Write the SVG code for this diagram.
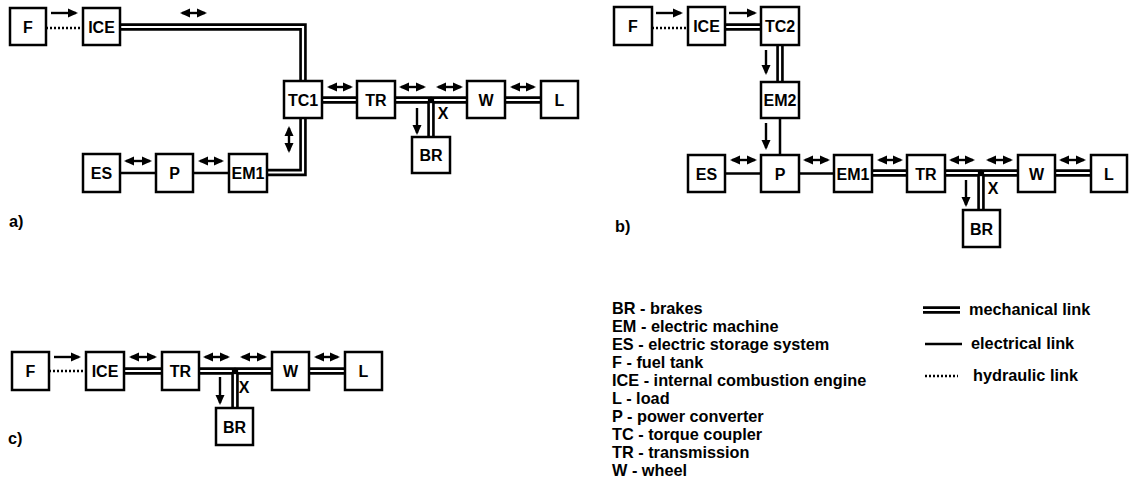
<svg xmlns="http://www.w3.org/2000/svg" width="1129" height="480" viewBox="0 0 1129 480">
<style>
text{font-family:"Liberation Sans",Arial,sans-serif;font-weight:bold;fill:#000}
.lbl{font-size:16px;text-anchor:middle}
.leg{font-size:16.3px}
.box{fill:#fff;stroke:#000;stroke-width:2.5}
.mo{fill:none;stroke:#000;stroke-width:7.5}
.mi{fill:none;stroke:#fff;stroke-width:2.2}
.el{fill:none;stroke:#000;stroke-width:2.5}
.hy{fill:none;stroke:#000;stroke-width:2.5;stroke-dasharray:2 2}
.ar{fill:none;stroke:#000;stroke-width:2.4;marker-end:url(#ah)}
.ar2{fill:none;stroke:#000;stroke-width:2.4;marker-end:url(#ah);marker-start:url(#ah)}
</style>
<defs>
<marker id="ah" viewBox="0 0 10 10" refX="8" refY="5" markerUnits="userSpaceOnUse" markerWidth="10" markerHeight="10" orient="auto-start-reverse">
<path d="M0,0.5 L10,5 L0,9.5 z" fill="#000"/>
</marker>
</defs>
<rect width="1129" height="480" fill="#fff"/>

<!-- connectors -->
<g id="connectors">
<!-- a) -->
<path class="hy" d="M46,28 H83"/>
<path class="mo" d="M120,27 H303 V81"/><path class="mi" d="M120,27 H303 V81"/>
<path class="mo" d="M303,118 V172.5 H267"/><path class="mi" d="M303,118 V172.5 H267"/>
<path class="el" d="M120,173 H156 M193,173 H229"/>
<path class="mo" d="M322,100 H357 M395,100 H467 M505,100 H541 M431,100 V137"/>
<path class="mi" d="M322,100 H357 M395,100 H467 M505,100 H541 M431,101 V137"/>
<circle cx="431" cy="100" r="3.2" fill="#000"/>
<path class="ar" d="M51,13 H76"/>
<path class="ar2" d="M182,13 H205"/>
<path class="ar2" d="M289,128 V151"/>
<path class="ar2" d="M126,161 H150"/>
<path class="ar2" d="M200,161 H222"/>
<path class="ar2" d="M329,87 H351"/>
<path class="ar2" d="M401,87 H424"/>
<path class="ar2" d="M438,87 H461"/>
<path class="ar2" d="M512,87 H534"/>
<path class="ar" d="M417,108 V133"/>

<!-- b) -->
<path class="hy" d="M652,28 H688"/>
<path class="mo" d="M725,27 H761 M780,45 V82"/><path class="mi" d="M725,27 H761 M780,45 V82"/>
<path class="el" d="M780,118 V155 M725,173.5 H761 M799,173.5 H834"/>
<path class="mo" d="M872,173 H907 M945,173 H1018 M1055,173 H1091 M981,173 V210"/>
<path class="mi" d="M872,173 H907 M945,173 H1018 M1055,173 H1091 M981,174 V210"/>
<circle cx="981" cy="173" r="3.2" fill="#000"/>
<path class="ar" d="M656,13 H681"/>
<path class="ar" d="M729,13 H755"/>
<path class="ar" d="M766,50 V73"/>
<path class="ar" d="M766,123 V148"/>
<path class="ar2" d="M732,160 H755"/>
<path class="ar2" d="M805,160 H828"/>
<path class="ar2" d="M879,160 H901"/>
<path class="ar2" d="M951,160 H973"/>
<path class="ar2" d="M988,160 H1011"/>
<path class="ar2" d="M1061,160 H1084"/>
<path class="ar" d="M966,180 V205"/>

<!-- c) -->
<path class="hy" d="M49,371 H86"/>
<path class="mo" d="M124,371 H162 M199,371 H272 M309,371 H345 M235,371 V408"/>
<path class="mi" d="M124,371 H162 M199,371 H272 M309,371 H345 M235,372 V408"/>
<circle cx="235" cy="371" r="3.2" fill="#000"/>
<path class="ar" d="M54,357 H79"/>
<path class="ar2" d="M131,357 H155"/>
<path class="ar2" d="M205,357 H228"/>
<path class="ar2" d="M242,357 H265"/>
<path class="ar2" d="M316,357 H338"/>
<path class="ar" d="M220,377 V403"/>
</g>

<!-- a) nodes -->
<g id="a-F"><rect class="box" x="10" y="8" width="36" height="37"/><text class="lbl" x="28" y="32.5">F</text></g>
<g id="a-ICE"><rect class="box" x="83" y="8" width="37" height="37"/><text class="lbl" x="101.5" y="32.5">ICE</text></g>
<g id="a-TC1"><rect class="box" x="284" y="81" width="38" height="37"/><text class="lbl" x="303" y="105.5">TC1</text></g>
<g id="a-TR"><rect class="box" x="357" y="81" width="38" height="37"/><text class="lbl" x="376" y="105.5">TR</text></g>
<g id="a-W"><rect class="box" x="467" y="81" width="38" height="37"/><text class="lbl" x="486" y="105.5">W</text></g>
<g id="a-L"><rect class="box" x="541" y="81" width="37" height="37"/><text class="lbl" x="559.5" y="105.5">L</text></g>
<g id="a-BR"><rect class="box" x="412" y="137" width="38" height="36"/><text class="lbl" x="431" y="161">BR</text></g>
<g id="a-ES"><rect class="box" x="83" y="154" width="37" height="38"/><text class="lbl" x="101.5" y="179">ES</text></g>
<g id="a-P"><rect class="box" x="156" y="154" width="37" height="38"/><text class="lbl" x="174.5" y="179">P</text></g>
<g id="a-EM1"><rect class="box" x="229" y="154" width="38" height="38"/><text class="lbl" x="248" y="179">EM1</text></g>
<text class="lbl" x="443" y="119">X</text>
<text class="leg" x="9" y="227">a)</text>

<!-- b) nodes -->
<g id="b-F"><rect class="box" x="614" y="7" width="38" height="38"/><text class="lbl" x="633" y="32">F</text></g>
<g id="b-ICE"><rect class="box" x="688" y="7" width="37" height="38"/><text class="lbl" x="706.5" y="32">ICE</text></g>
<g id="b-TC2"><rect class="box" x="761" y="7" width="38" height="38"/><text class="lbl" x="780" y="32">TC2</text></g>
<g id="b-EM2"><rect class="box" x="761" y="82" width="38" height="36"/><text class="lbl" x="780" y="106">EM2</text></g>
<g id="b-P"><rect class="box" x="761" y="155" width="38" height="37"/><text class="lbl" x="780" y="179.5">P</text></g>
<g id="b-ES"><rect class="box" x="688" y="155" width="37" height="37"/><text class="lbl" x="706.5" y="179.5">ES</text></g>
<g id="b-EM1"><rect class="box" x="834" y="155" width="38" height="37"/><text class="lbl" x="853" y="179.5">EM1</text></g>
<g id="b-TR"><rect class="box" x="907" y="155" width="38" height="37"/><text class="lbl" x="926" y="179.5">TR</text></g>
<g id="b-W"><rect class="box" x="1018" y="155" width="37" height="37"/><text class="lbl" x="1036.5" y="179.5">W</text></g>
<g id="b-L"><rect class="box" x="1091" y="155" width="36" height="37"/><text class="lbl" x="1109" y="179.5">L</text></g>
<g id="b-BR"><rect class="box" x="963" y="210" width="37" height="37"/><text class="lbl" x="981.5" y="234.5">BR</text></g>
<text class="lbl" x="993" y="194">X</text>
<text class="leg" x="615" y="232">b)</text>

<!-- c) nodes -->
<g id="c-F"><rect class="box" x="12" y="352" width="37" height="38"/><text class="lbl" x="30.5" y="377">F</text></g>
<g id="c-ICE"><rect class="box" x="86" y="352" width="38" height="38"/><text class="lbl" x="105" y="377">ICE</text></g>
<g id="c-TR"><rect class="box" x="162" y="352" width="37" height="38"/><text class="lbl" x="180.5" y="377">TR</text></g>
<g id="c-W"><rect class="box" x="272" y="352" width="37" height="38"/><text class="lbl" x="290.5" y="377">W</text></g>
<g id="c-L"><rect class="box" x="345" y="352" width="37" height="38"/><text class="lbl" x="363.5" y="377">L</text></g>
<g id="c-BR"><rect class="box" x="216" y="408" width="37" height="37"/><text class="lbl" x="234.5" y="432.5">BR</text></g>
<text class="lbl" x="244" y="393">X</text>
<text class="leg" x="8" y="444">c)</text>

<!-- legend -->
<g id="legend">
<text class="leg" x="612" y="314">BR - brakes</text>
<text class="leg" x="612" y="332">EM - electric machine</text>
<text class="leg" x="612" y="350">ES - electric storage system</text>
<text class="leg" x="612" y="368">F - fuel tank</text>
<text class="leg" x="612" y="386">ICE - internal combustion engine</text>
<text class="leg" x="612" y="404">L - load</text>
<text class="leg" x="612" y="422">P - power converter</text>
<text class="leg" x="612" y="440">TC - torque coupler</text>
<text class="leg" x="612" y="458">TR - transmission</text>
<text class="leg" x="612" y="476">W - wheel</text>
<path class="mo" d="M923,310 H960"/><path class="mi" d="M923,310 H960"/>
<text class="leg" x="969" y="315">mechanical link</text>
<path class="el" d="M925,344 H962"/>
<text class="leg" x="971" y="349">electrical link</text>
<path class="hy" d="M925,376 H958"/>
<text class="leg" x="973" y="381">hydraulic link</text>
</g>
</svg>
